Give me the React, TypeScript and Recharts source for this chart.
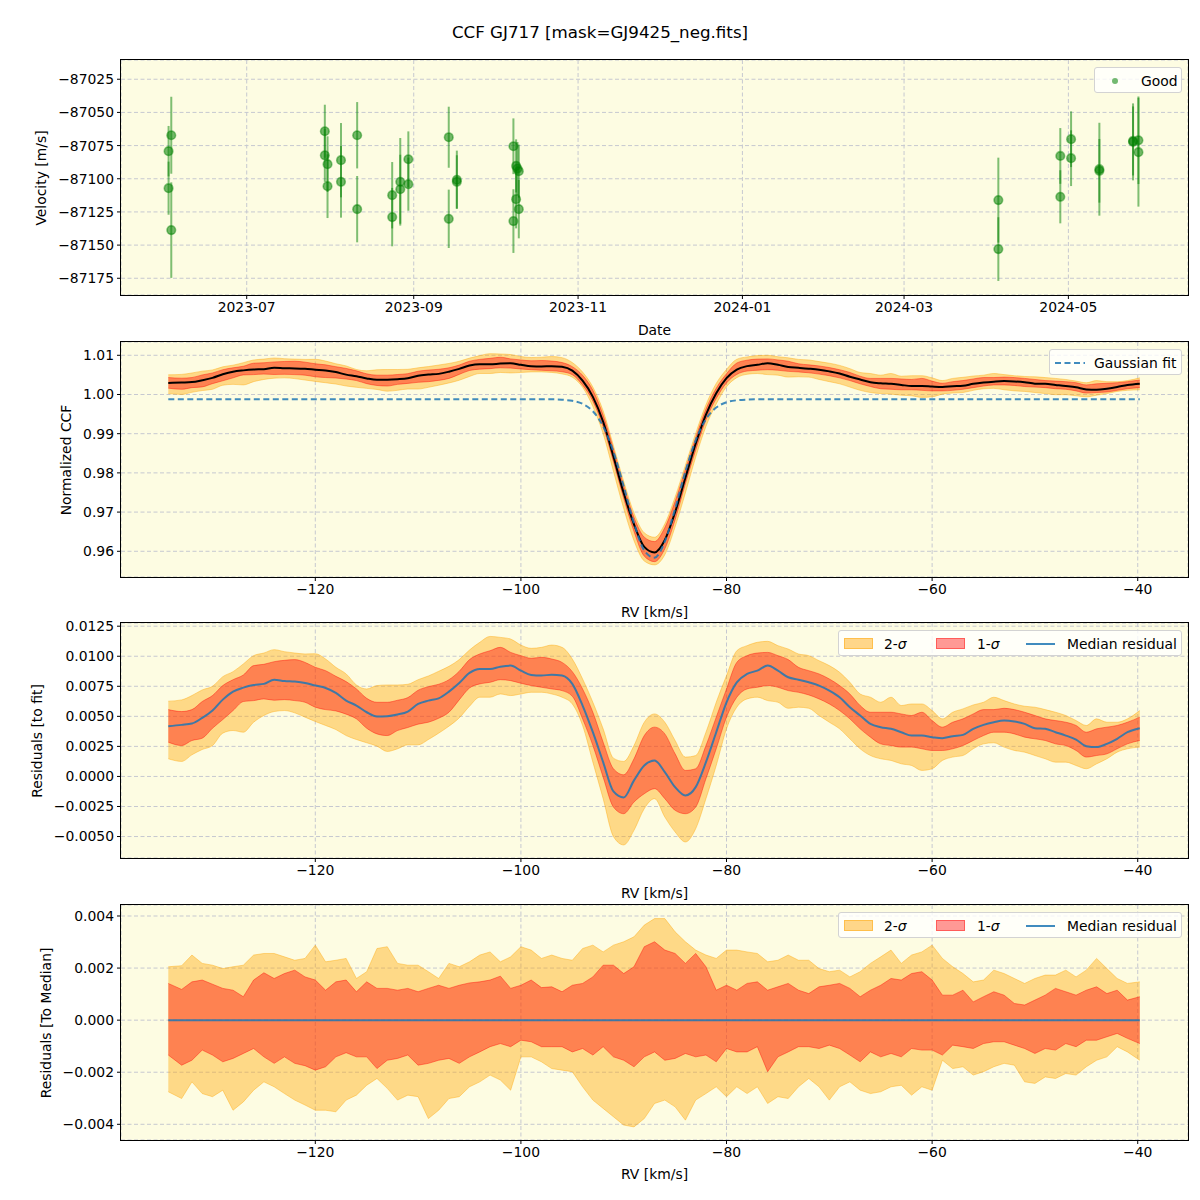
import React from "react";
import {
  ComposedChart, ScatterChart, Scatter, ErrorBar, Area, Line,
  XAxis, YAxis, CartesianGrid,
} from "recharts";

const FONT = "'DejaVu Sans', sans-serif";
const FS = 13.9;
const BG = "#fdfce2";
const GRID = "#c6c8d0";
const MINUS = "\u2212";

// ---- top panel: RV time series (Good points)
const OBS_DATES = [
  "2023-06-03", "2023-06-02", "2023-06-02", "2023-06-03",
  "2023-07-30", "2023-07-30", "2023-07-31", "2023-07-31",
  "2023-08-05", "2023-08-05", "2023-08-11", "2023-08-11",
  "2023-08-24", "2023-08-24", "2023-08-27", "2023-08-27",
  "2023-08-30", "2023-08-30", "2023-09-14", "2023-09-14",
  "2023-09-17", "2023-09-17", "2023-10-08", "2023-10-08",
  "2023-10-09", "2023-10-09T12:00:00Z", "2023-10-10", "2023-10-09", "2023-10-10",
  "2024-04-05", "2024-04-05", "2024-04-28", "2024-04-28",
  "2024-05-02", "2024-05-02", "2024-05-12T12:00:00Z", "2024-05-12T12:00:00Z",
  "2024-05-25", "2024-05-25", "2024-05-27", "2024-05-27",
];
const OBS_RV = [
  -87067.2, -87079.2, -87107.1, -87138.7,
  -87064.2, -87082.3, -87089.0, -87105.6,
  -87086.0, -87102.3, -87067.2, -87122.9,
  -87112.4, -87128.9, -87102.3, -87107.9,
  -87085.3, -87104.1, -87068.7, -87130.2,
  -87100.8, -87102.3, -87075.5, -87131.9,
  -87090.3, -87092.3, -87094.3, -87115.4, -87122.9,
  -87116.1, -87153.0, -87082.8, -87113.6,
  -87070.2, -87084.5, -87092.8, -87094.0,
  -87072.2, -87071.5, -87071.0, -87080.0,
];
const OBS_ERR = [
  29, 19, 20, 36,
  20, 20, 21, 24,
  28, 27, 25, 25,
  25, 22, 33, 26,
  21, 20, 23, 22,
  22, 20, 21, 24,
  20, 20, 20, 22, 22,
  32, 24, 21, 20,
  21, 21, 35, 24,
  29, 26, 33, 41,
];
const VEL_TICKS = [-87175, -87150, -87125, -87100, -87075, -87050, -87025];
const DATE_TICKS = ["2023-07-01", "2023-09-01", "2023-11-01", "2024-01-01", "2024-03-01", "2024-05-01"];

// ---- CCF grid (km/s)
const RV_GRID = [
  -134.3, -133, -132, -131, -130, -129, -128, -127, -126, -125,
  -124, -123, -122, -121, -120, -119, -118, -117, -116, -115,
  -114, -113, -112, -111, -110, -109, -108, -107, -106, -105,
  -104, -103, -102, -101, -100, -99, -98, -97, -96, -95,
  -94, -93, -92, -91, -90, -89, -88, -87, -86, -85,
  -84, -83, -82, -81, -80, -79, -78, -77, -76, -75,
  -74, -73, -72, -71, -70, -69, -68, -67, -66, -65,
  -64, -63, -62, -61, -60, -59, -58, -57, -56, -55,
  -54, -53, -52, -51, -50, -49, -48, -47, -46, -45,
  -44, -43, -42, -41, -39.8,
];
const GAUSS_FIT = [
  0.99876, 0.99876, 0.99876, 0.99876, 0.99876, 0.99876, 0.99876, 0.99876, 0.99876, 0.99876,
  0.99876, 0.99876, 0.99876, 0.99876, 0.99876, 0.99876, 0.99876, 0.99876, 0.99876, 0.99876,
  0.99876, 0.99876, 0.99876, 0.99876, 0.99876, 0.99876, 0.99876, 0.99876, 0.99876, 0.99876,
  0.99876, 0.99876, 0.99876, 0.99876, 0.99876, 0.99876, 0.99876, 0.99876, 0.99866, 0.99838,
  0.99761, 0.99572, 0.99186, 0.98542, 0.9766, 0.96719, 0.9602, 0.95838, 0.96251, 0.97086,
  0.98034, 0.98833, 0.9937, 0.99666, 0.99801, 0.99853, 0.9987, 0.99876, 0.99876, 0.99876,
  0.99876, 0.99876, 0.99876, 0.99876, 0.99876, 0.99876, 0.99876, 0.99876, 0.99876, 0.99876,
  0.99876, 0.99876, 0.99876, 0.99876, 0.99876, 0.99876, 0.99876, 0.99876, 0.99876, 0.99876,
  0.99876, 0.99876, 0.99876, 0.99876, 0.99876, 0.99876, 0.99876, 0.99876, 0.99876, 0.99876,
  0.99876, 0.99876, 0.99876, 0.99876, 0.99876,
];

// residuals to the fit: median and 1/2-sigma envelopes
const RES_MEDIAN = [
  0.00418, 0.00429, 0.00440, 0.00487, 0.00548, 0.00639, 0.00706, 0.00739, 0.00761, 0.00770,
  0.00805, 0.00794, 0.00789, 0.00778, 0.00756, 0.00736, 0.00695, 0.00631, 0.00590, 0.00534,
  0.00498, 0.00501, 0.00515, 0.00540, 0.00603, 0.00631, 0.00650, 0.00706, 0.00778, 0.00861,
  0.00894, 0.00894, 0.00913, 0.00922, 0.00880, 0.00844, 0.00839, 0.00847, 0.00839, 0.00770,
  0.00590, 0.00368, 0.00119, -0.00125, -0.00175, -0.00033, 0.00091, 0.00133, 0.00036, -0.00089,
  -0.00158, -0.00089, 0.00119, 0.00368, 0.00617, 0.00783, 0.00853, 0.00880, 0.00922, 0.00880,
  0.00825, 0.00805, 0.00783, 0.00756, 0.00714, 0.00659, 0.00576, 0.00507, 0.00437, 0.00410,
  0.00396, 0.00368, 0.00340, 0.00340, 0.00327, 0.00318, 0.00335, 0.00346, 0.00396, 0.00429,
  0.00451, 0.00465, 0.00457, 0.00437, 0.00401, 0.00396, 0.00368, 0.00340, 0.00307, 0.00252,
  0.00244, 0.00271, 0.00313, 0.00368, 0.00401,
];
const RES_LO1 = [
  0.00285, 0.00257, 0.00299, 0.00318, 0.00401, 0.00473, 0.00548, 0.00623, 0.00631, 0.00645,
  0.00634, 0.00639, 0.00631, 0.00617, 0.00576, 0.00556, 0.00545, 0.00518, 0.00479, 0.00401,
  0.00354, 0.00340, 0.00382, 0.00407, 0.00435, 0.00451, 0.00484, 0.00534, 0.00637, 0.00736,
  0.00770, 0.00783, 0.00805, 0.00797, 0.00775, 0.00756, 0.00742, 0.00728, 0.00714, 0.00667,
  0.00479, 0.00257, -0.00006, -0.00255, -0.00310, -0.00213, -0.00144, -0.00102, -0.00185, -0.00282,
  -0.00310, -0.00255, -0.00019, 0.00230, 0.00493, 0.00659, 0.00728, 0.00742, 0.00756, 0.00742,
  0.00714, 0.00700, 0.00678, 0.00645, 0.00603, 0.00548, 0.00479, 0.00396, 0.00327, 0.00271,
  0.00257, 0.00244, 0.00244, 0.00230, 0.00216, 0.00216, 0.00230, 0.00257, 0.00299, 0.00340,
  0.00368, 0.00368, 0.00354, 0.00327, 0.00313, 0.00299, 0.00271, 0.00257, 0.00216, 0.00161,
  0.00174, 0.00188, 0.00230, 0.00271, 0.00299,
];
const RES_HI1 = [
  0.00556, 0.00540, 0.00556, 0.00623, 0.00673, 0.00756, 0.00805, 0.00844, 0.00922, 0.00933,
  0.00955, 0.00966, 0.00972, 0.00949, 0.00908, 0.00880, 0.00833, 0.00789, 0.00728, 0.00650,
  0.00617, 0.00617, 0.00634, 0.00656, 0.00717, 0.00747, 0.00767, 0.00805, 0.00875, 0.00972,
  0.01019, 0.01046, 0.01074, 0.01032, 0.01005, 0.00983, 0.00991, 0.00977, 0.00949, 0.00872,
  0.00728, 0.00534, 0.00285, 0.00064, 0.00014, 0.00147, 0.00340, 0.00410, 0.00354, 0.00188,
  0.00050, 0.00064, 0.00257, 0.00493, 0.00728, 0.00949, 0.01005, 0.01027, 0.01032, 0.01005,
  0.00972, 0.00908, 0.00880, 0.00853, 0.00811, 0.00756, 0.00686, 0.00590, 0.00534, 0.00534,
  0.00534, 0.00520, 0.00507, 0.00534, 0.00465, 0.00410, 0.00451, 0.00479, 0.00520, 0.00556,
  0.00556, 0.00567, 0.00556, 0.00534, 0.00507, 0.00479, 0.00465, 0.00451, 0.00424, 0.00368,
  0.00396, 0.00410, 0.00424, 0.00451, 0.00493,
];
const RES_LO2 = [
  0.00147, 0.00125, 0.00180, 0.00224, 0.00257, 0.00360, 0.00382, 0.00368, 0.00451, 0.00507,
  0.00540, 0.00548, 0.00529, 0.00493, 0.00457, 0.00424, 0.00390, 0.00340, 0.00307, 0.00280,
  0.00252, 0.00208, 0.00230, 0.00263, 0.00263, 0.00307, 0.00360, 0.00418, 0.00487, 0.00584,
  0.00659, 0.00659, 0.00686, 0.00673, 0.00686, 0.00700, 0.00700, 0.00686, 0.00659, 0.00603,
  0.00424, 0.00119, -0.00185, -0.00500, -0.00570, -0.00448, -0.00268, -0.00185, -0.00338, -0.00462,
  -0.00545, -0.00435, -0.00185, 0.00091, 0.00396, 0.00576, 0.00645, 0.00659, 0.00631, 0.00617,
  0.00567, 0.00576, 0.00567, 0.00507, 0.00451, 0.00396, 0.00313, 0.00230, 0.00174, 0.00147,
  0.00133, 0.00105, 0.00091, 0.00050, 0.00064, 0.00133, 0.00161, 0.00174, 0.00230, 0.00271,
  0.00280, 0.00244, 0.00216, 0.00202, 0.00174, 0.00147, 0.00119, 0.00119, 0.00091, 0.00064,
  0.00105, 0.00147, 0.00202, 0.00230, 0.00244,
];
const RES_HI2 = [
  0.00626, 0.00637, 0.00673, 0.00720, 0.00750, 0.00830, 0.00872, 0.00936, 0.01005, 0.01027,
  0.01055, 0.01038, 0.01027, 0.01019, 0.01021, 0.00977, 0.00908, 0.00853, 0.00761, 0.00728,
  0.00756, 0.00761, 0.00761, 0.00767, 0.00805, 0.00836, 0.00875, 0.00916, 0.00972, 0.01052,
  0.01116, 0.01165, 0.01157, 0.01143, 0.01093, 0.01066, 0.01074, 0.01093, 0.01074, 0.00977,
  0.00811, 0.00617, 0.00396, 0.00152, 0.00125, 0.00257, 0.00451, 0.00520, 0.00451, 0.00299,
  0.00161, 0.00174, 0.00368, 0.00617, 0.00839, 0.01046, 0.01088, 0.01116, 0.01124, 0.01088,
  0.01060, 0.01019, 0.01005, 0.00963, 0.00922, 0.00866, 0.00783, 0.00686, 0.00659, 0.00617,
  0.00659, 0.00590, 0.00603, 0.00603, 0.00548, 0.00479, 0.00534, 0.00562, 0.00595, 0.00617,
  0.00659, 0.00631, 0.00603, 0.00584, 0.00576, 0.00556, 0.00534, 0.00507, 0.00465, 0.00424,
  0.00479, 0.00451, 0.00451, 0.00479, 0.00548,
];

// residuals to the median: 1/2-sigma envelopes
const TOM_LO1 = [
  -0.00134, -0.00173, -0.00154, -0.00115, -0.00134, -0.00160, -0.00147, -0.00128, -0.00109, -0.00141,
  -0.00166, -0.00141, -0.00166, -0.00175, -0.00192, -0.00179, -0.00141, -0.00125, -0.00141, -0.00141,
  -0.00186, -0.00154, -0.00147, -0.00134, -0.00173, -0.00166, -0.00154, -0.00147, -0.00166, -0.00141,
  -0.00122, -0.00102, -0.00090, -0.00102, -0.00077, -0.00083, -0.00102, -0.00102, -0.00102, -0.00122,
  -0.00109, -0.00134, -0.00102, -0.00141, -0.00154, -0.00179, -0.00141, -0.00122, -0.00154, -0.00147,
  -0.00128, -0.00141, -0.00134, -0.00160, -0.00109, -0.00122, -0.00122, -0.00102, -0.00198, -0.00141,
  -0.00122, -0.00102, -0.00102, -0.00109, -0.00096, -0.00109, -0.00134, -0.00160, -0.00122, -0.00141,
  -0.00128, -0.00141, -0.00109, -0.00115, -0.00115, -0.00134, -0.00096, -0.00102, -0.00109, -0.00090,
  -0.00083, -0.00083, -0.00096, -0.00109, -0.00128, -0.00109, -0.00115, -0.00090, -0.00102, -0.00077,
  -0.00077, -0.00064, -0.00051, -0.00070, -0.00090,
];
const TOM_HI1 = [
  0.00141, 0.00118, 0.00147, 0.00154, 0.00138, 0.00122, 0.00115, 0.00090, 0.00154, 0.00182,
  0.00160, 0.00179, 0.00192, 0.00166, 0.00154, 0.00115, 0.00147, 0.00154, 0.00109, 0.00147,
  0.00122, 0.00122, 0.00115, 0.00122, 0.00109, 0.00122, 0.00134, 0.00122, 0.00134, 0.00143,
  0.00147, 0.00154, 0.00169, 0.00122, 0.00134, 0.00154, 0.00125, 0.00128, 0.00109, 0.00134,
  0.00141, 0.00166, 0.00211, 0.00211, 0.00179, 0.00205, 0.00282, 0.00301, 0.00269, 0.00256,
  0.00218, 0.00256, 0.00205, 0.00115, 0.00134, 0.00115, 0.00141, 0.00147, 0.00115, 0.00128,
  0.00141, 0.00115, 0.00102, 0.00128, 0.00134, 0.00141, 0.00122, 0.00090, 0.00115, 0.00134,
  0.00160, 0.00154, 0.00179, 0.00186, 0.00154, 0.00096, 0.00096, 0.00115, 0.00070, 0.00090,
  0.00109, 0.00096, 0.00064, 0.00058, 0.00077, 0.00096, 0.00122, 0.00109, 0.00096, 0.00115,
  0.00128, 0.00102, 0.00115, 0.00077, 0.00090,
];
const TOM_LO2 = [
  -0.00275, -0.00301, -0.00237, -0.00282, -0.00294, -0.00269, -0.00346, -0.00314, -0.00269, -0.00237,
  -0.00256, -0.00282, -0.00307, -0.00326, -0.00346, -0.00346, -0.00352, -0.00307, -0.00288, -0.00250,
  -0.00224, -0.00262, -0.00307, -0.00288, -0.00294, -0.00378, -0.00346, -0.00301, -0.00294, -0.00256,
  -0.00237, -0.00211, -0.00230, -0.00269, -0.00141, -0.00141, -0.00160, -0.00186, -0.00192, -0.00198,
  -0.00256, -0.00307, -0.00339, -0.00371, -0.00403, -0.00410, -0.00378, -0.00320, -0.00307, -0.00333,
  -0.00384, -0.00307, -0.00282, -0.00256, -0.00294, -0.00256, -0.00282, -0.00256, -0.00320, -0.00294,
  -0.00301, -0.00256, -0.00224, -0.00256, -0.00307, -0.00256, -0.00237, -0.00269, -0.00282, -0.00275,
  -0.00256, -0.00250, -0.00288, -0.00256, -0.00269, -0.00154, -0.00186, -0.00179, -0.00211, -0.00198,
  -0.00179, -0.00166, -0.00173, -0.00237, -0.00243, -0.00218, -0.00224, -0.00205, -0.00211, -0.00179,
  -0.00154, -0.00141, -0.00102, -0.00122, -0.00154,
];
const TOM_HI2 = [
  0.00205, 0.00209, 0.00250, 0.00218, 0.00211, 0.00198, 0.00205, 0.00211, 0.00250, 0.00256,
  0.00256, 0.00243, 0.00230, 0.00237, 0.00288, 0.00224, 0.00230, 0.00237, 0.00160, 0.00186,
  0.00275, 0.00282, 0.00218, 0.00211, 0.00211, 0.00186, 0.00160, 0.00218, 0.00205, 0.00224,
  0.00250, 0.00262, 0.00224, 0.00243, 0.00282, 0.00269, 0.00237, 0.00250, 0.00237, 0.00230,
  0.00275, 0.00288, 0.00262, 0.00288, 0.00301, 0.00320, 0.00365, 0.00390, 0.00390, 0.00339,
  0.00301, 0.00269, 0.00250, 0.00237, 0.00269, 0.00269, 0.00262, 0.00256, 0.00224, 0.00230,
  0.00250, 0.00230, 0.00230, 0.00198, 0.00186, 0.00192, 0.00166, 0.00186, 0.00218, 0.00243,
  0.00269, 0.00218, 0.00250, 0.00262, 0.00288, 0.00237, 0.00205, 0.00179, 0.00147, 0.00154,
  0.00192, 0.00179, 0.00160, 0.00141, 0.00160, 0.00173, 0.00173, 0.00192, 0.00166, 0.00192,
  0.00237, 0.00198, 0.00160, 0.00141, 0.00147,
];
const MEDIAN_TO_MEDIAN = 0;

const RV_TICKS = [-120, -100, -80, -60, -40];
const CCF_TICKS = [0.96, 0.97, 0.98, 0.99, 1.0, 1.01];
const RES_TICKS = [-0.005, -0.0025, 0, 0.0025, 0.005, 0.0075, 0.01, 0.0125];
const TOM_TICKS = [-0.004, -0.002, 0, 0.002, 0.004];

// ---- tables for the library
const DAY = 86400000;
const JUL1 = Date.UTC(2023, 6, 1);
const obsRows = OBS_DATES.map((d, i) => ({ t: Date.parse(d), v: OBS_RV[i], err: OBS_ERR[i] }));
const ccfRows = RV_GRID.map((rv, i) => ({
  rv,
  fit: GAUSS_FIT[i],
  med: GAUSS_FIT[i] + RES_MEDIAN[i],
  s1: [GAUSS_FIT[i] + RES_LO1[i], GAUSS_FIT[i] + RES_HI1[i]],
  s2: [GAUSS_FIT[i] + RES_LO2[i], GAUSS_FIT[i] + RES_HI2[i]],
}));
const resRows = RV_GRID.map((rv, i) => ({
  rv,
  med: RES_MEDIAN[i],
  s1: [RES_LO1[i], RES_HI1[i]],
  s2: [RES_LO2[i], RES_HI2[i]],
}));
const tomRows = RV_GRID.map((rv, i) => ({
  rv,
  s1: [TOM_LO1[i], TOM_HI1[i]],
  s2: [TOM_LO2[i], TOM_HI2[i]],
}));

// ---- layout
const W = 1200;
const PLOT_L = 121;
const PLOT_R = 1188;
const PAD_T = 10;
const X_H = 50;
const PANELS = [
  { top: 60, h: 235 },
  { top: 342, h: 235 },
  { top: 623, h: 235 },
  { top: 905, h: 235 },
];
const RV_DOMAIN = [-138.9, -35.11];

const signed = (digits: number) => (v: number) =>
  (v < -1e-12 ? MINUS : "") + Math.abs(v).toFixed(digits);
const fmtDate = (t: number) => {
  const d = new Date(t);
  return `${d.getUTCFullYear()}-${String(d.getUTCMonth() + 1).padStart(2, "0")}`;
};

const tickStyle = { fontSize: FS, fill: "#000", fontFamily: FONT };
const axisCommon = {
  axisLine: false,
  tickLine: { stroke: "#000", strokeWidth: 1 },
  tickSize: 4,
  tickMargin: 3,
  tick: tickStyle,
  interval: 0 as const,
  allowDataOverflow: true,
};

const ORANGE = "#ffa500";
const RED = "#ff0000";
const BLUE = "#1f77b4";

function Frame({ p }: { p: { top: number; h: number } }) {
  return (
    <div style={{
      position: "absolute", left: PLOT_L - 1, top: p.top - 1,
      width: PLOT_R - PLOT_L + 2, height: p.h + 2,
      border: "1px solid #000", boxSizing: "border-box", pointerEvents: "none",
    }} />
  );
}

function YTitle({ x, y, text }: { x: number; y: number; text: string }) {
  return (
    <div style={{
      position: "absolute", left: x, top: y, transform: "translate(-50%, -50%) rotate(-90deg)",
      whiteSpace: "nowrap", fontSize: FS, fontFamily: FONT,
    }}>{text}</div>
  );
}

function XTitle({ y, text }: { y: number; text: string }) {
  return (
    <div style={{
      position: "absolute", left: (PLOT_L + PLOT_R) / 2, top: y, transform: "translate(-50%, -50%)",
      whiteSpace: "nowrap", fontSize: FS, fontFamily: FONT,
    }}>{text}</div>
  );
}

const legendBox: React.CSSProperties = {
  position: "absolute", background: "rgba(255,255,255,0.8)", border: "1px solid #d3d3d3",
  borderRadius: 3, boxSizing: "border-box", fontSize: FS, fontFamily: FONT,
};

function SigmaLegend({ top }: { top: number }) {
  const sw = (left: number, color: string) => (
    <div style={{
      position: "absolute", left, top: 7, width: 29, height: 11, boxSizing: "border-box",
      background: color, border: `1px solid ${color}`,
    }} />
  );
  const txt = (left: number, node: React.ReactNode) => (
    <div style={{ position: "absolute", left, top: 12.5, transform: "translateY(-50%)", whiteSpace: "nowrap" }}>{node}</div>
  );
  return (
    <div style={{ ...legendBox, left: 838, top, width: 344, height: 26 }}>
      {sw(5, "rgba(255,165,0,0.45)")}
      {txt(45, <span>2-<i>σ</i></span>)}
      {sw(97, "rgba(255,0,0,0.4)")}
      {txt(138, <span>1-<i>σ</i></span>)}
      <div style={{ position: "absolute", left: 187, top: 12, width: 29, height: 2, background: BLUE, opacity: 0.85 }} />
      {txt(228, "Median residual")}
    </div>
  );
}

function RvAxes({ ydomain, yticks, yfmt }: { ydomain: number[]; yticks: number[]; yfmt: (v: number) => string }) {
  return [
    <CartesianGrid key="g" stroke={GRID} strokeDasharray="4 2.5" fill={BG} fillOpacity={1} />,
    <XAxis key="x" type="number" dataKey="rv" domain={RV_DOMAIN} ticks={RV_TICKS} height={X_H}
      tickFormatter={signed(0)} {...axisCommon} />,
    <YAxis key="y" type="number" domain={ydomain} ticks={yticks} width={PLOT_L}
      tickFormatter={yfmt} {...axisCommon} />,
  ];
}

export default function App() {
  const chartPos = (p: { top: number; h: number }): React.CSSProperties => ({
    position: "absolute", left: 0, top: p.top - PAD_T,
  });
  const margin = { top: PAD_T, right: W - PLOT_R, bottom: 0, left: 0 };
  const [p1, p2, p3, p4] = PANELS;

  return (
    <div style={{ position: "relative", width: W, height: 1200, background: "#fff", fontFamily: FONT, overflow: "hidden" }}>
      <style>{"body{margin:0}"}</style>

      <div style={{
        position: "absolute", left: 0, width: W, top: 32, transform: "translateY(-50%)",
        textAlign: "center", fontSize: 16.7, fontFamily: FONT,
      }}>CCF GJ717 [mask=GJ9425_neg.fits]</div>

      {/* panel 1: velocities */}
      <div style={chartPos(p1)}>
        <ScatterChart width={W} height={PAD_T + p1.h + X_H} margin={margin}>
          <CartesianGrid stroke={GRID} strokeDasharray="4 2.5" fill={BG} fillOpacity={1} />
          <XAxis type="number" dataKey="t" height={X_H}
            domain={[JUL1 - 46.66 * DAY, JUL1 + 349.4 * DAY]}
            ticks={DATE_TICKS.map((d) => Date.parse(d))}
            tickFormatter={fmtDate} {...axisCommon} />
          <YAxis type="number" dataKey="v" width={PLOT_L} domain={[-87187.6, -87010.5]}
            ticks={VEL_TICKS} tickFormatter={signed(0)} {...axisCommon} />
          <Scatter data={obsRows} isAnimationActive={false}
            shape={(props: any) => (
              <circle cx={props.cx} cy={props.cy} r={4.3} fill="rgba(0,128,0,0.55)"
                stroke="rgba(0,128,0,0.45)" strokeWidth={1.6} />
            )}>
            <ErrorBar dataKey="err" direction="y" width={0} stroke="rgba(0,128,0,0.5)" strokeWidth={2} />
          </Scatter>
        </ScatterChart>
      </div>
      <Frame p={p1} />
      <YTitle x={41} y={p1.top + p1.h / 2} text="Velocity [m/s]" />
      <XTitle y={330} text="Date" />
      <div style={{ ...legendBox, left: 1094, top: 67, width: 88, height: 26 }}>
        <svg style={{ position: "absolute", left: 14, top: 7 }} width={12} height={12}>
          <circle cx={6} cy={6} r={3} fill="rgba(0,128,0,0.55)" />
        </svg>
        <div style={{ position: "absolute", left: 46, top: 12.5, transform: "translateY(-50%)" }}>Good</div>
      </div>

      {/* panel 2: normalized CCF */}
      <div style={chartPos(p2)}>
        <ComposedChart width={W} height={PAD_T + p2.h + X_H} margin={margin} data={ccfRows}>
          {RvAxes({ ydomain: [0.95344, 1.01339], yticks: CCF_TICKS, yfmt: signed(2) })}
          <Area type="monotone" dataKey="s2" stroke={ORANGE} strokeOpacity={0.4} fill={ORANGE} fillOpacity={0.4}
            isAnimationActive={false} dot={false} activeDot={false} />
          <Area type="monotone" dataKey="s1" stroke={RED} strokeOpacity={0.4} fill={RED} fillOpacity={0.4}
            isAnimationActive={false} dot={false} activeDot={false} />
          <Line type="monotone" dataKey="med" stroke="#000" strokeWidth={2} dot={false} activeDot={false}
            isAnimationActive={false} />
          <Line type="monotone" dataKey="fit" stroke={BLUE} strokeOpacity={0.85} strokeWidth={2}
            strokeDasharray="6 3.5" dot={false} activeDot={false} isAnimationActive={false} />
        </ComposedChart>
      </div>
      <Frame p={p2} />
      <YTitle x={66} y={p2.top + p2.h / 2} text="Normalized CCF" />
      <XTitle y={p2.top + p2.h + 35} text="RV [km/s]" />
      <div style={{ ...legendBox, left: 1049, top: 349, width: 133, height: 26 }}>
        <svg style={{ position: "absolute", left: 5, top: 11 }} width={30} height={4}>
          <line x1={0} y1={2} x2={30} y2={2} stroke={BLUE} strokeOpacity={0.85} strokeWidth={2} strokeDasharray="6 3.5" />
        </svg>
        <div style={{ position: "absolute", left: 44, top: 12.5, transform: "translateY(-50%)", whiteSpace: "nowrap" }}>Gaussian fit</div>
      </div>

      {/* panel 3: residuals to fit */}
      <div style={chartPos(p3)}>
        <ComposedChart width={W} height={PAD_T + p3.h + X_H} margin={margin} data={resRows}>
          {RvAxes({ ydomain: [-0.006786, 0.012766], yticks: RES_TICKS, yfmt: signed(4) })}
          <Area type="monotone" dataKey="s2" stroke={ORANGE} strokeOpacity={0.4} fill={ORANGE} fillOpacity={0.4}
            isAnimationActive={false} dot={false} activeDot={false} />
          <Area type="monotone" dataKey="s1" stroke={RED} strokeOpacity={0.4} fill={RED} fillOpacity={0.4}
            isAnimationActive={false} dot={false} activeDot={false} />
          <Line type="monotone" dataKey="med" stroke={BLUE} strokeOpacity={0.85} strokeWidth={2}
            dot={false} activeDot={false} isAnimationActive={false} />
        </ComposedChart>
      </div>
      <Frame p={p3} />
      <YTitle x={37} y={p3.top + p3.h / 2} text="Residuals [to fit]" />
      <XTitle y={p3.top + p3.h + 35} text="RV [km/s]" />
      <SigmaLegend top={630} />

      {/* panel 4: residuals to median */}
      <div style={chartPos(p4)}>
        <ComposedChart width={W} height={PAD_T + p4.h + X_H} margin={margin} data={tomRows}>
          {RvAxes({ ydomain: [-0.004603, 0.004422], yticks: TOM_TICKS, yfmt: signed(3) })}
          <Area type="linear" dataKey="s2" stroke={ORANGE} strokeOpacity={0.4} fill={ORANGE} fillOpacity={0.4}
            isAnimationActive={false} dot={false} activeDot={false} />
          <Area type="linear" dataKey="s1" stroke={RED} strokeOpacity={0.4} fill={RED} fillOpacity={0.4}
            isAnimationActive={false} dot={false} activeDot={false} />
          <Line type="linear" dataKey={() => MEDIAN_TO_MEDIAN} stroke={BLUE} strokeOpacity={0.85} strokeWidth={2}
            dot={false} activeDot={false} isAnimationActive={false} />
        </ComposedChart>
      </div>
      <Frame p={p4} />
      <YTitle x={46} y={p4.top + p4.h / 2} text="Residuals [To Median]" />
      <XTitle y={p4.top + p4.h + 34} text="RV [km/s]" />
      <SigmaLegend top={912} />
    </div>
  );
}
